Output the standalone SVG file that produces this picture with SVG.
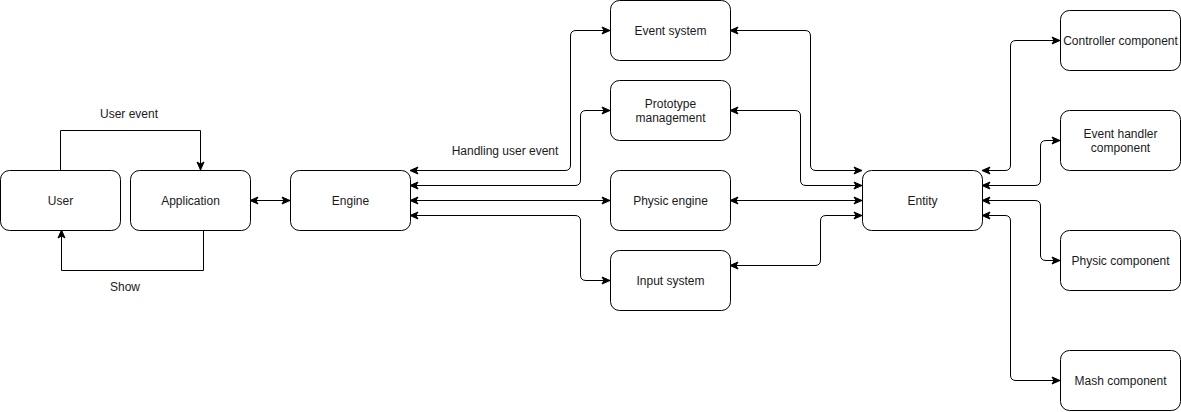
<svg xmlns="http://www.w3.org/2000/svg" width="1181" height="412" viewBox="0 0 1181 412">
<style>
.node rect{fill:#fff;stroke:#000;stroke-width:1}
text{font-family:"Liberation Sans",Arial,sans-serif;font-size:12px;fill:#1a1a1a;text-anchor:middle}
.edge{fill:none;stroke:#000;stroke-width:1;stroke-linejoin:round}
.both{marker-start:url(#arr);marker-end:url(#arr)}
.one{marker-end:url(#arr)}
</style>
<defs>
<marker id="arr" markerUnits="userSpaceOnUse" markerWidth="10" markerHeight="10" viewBox="-9 -5 10 10" refX="0" refY="0" orient="auto-start-reverse">
<path d="M0,0 L-8,-3.5 L-6,0 L-8,3.5 Z" fill="#000" stroke="#000" stroke-width="1" stroke-linejoin="miter"/>
</marker>
</defs>
<rect width="1181" height="412" fill="#fff"/>
<g id="connectors">
<path class="edge one" d="M60.5,170 V130.5 H200.5 V170"/>
<path class="edge one" d="M203.5,230 V270.5 H61.5 V230"/>
<path class="edge both" d="M250,200.5 H290"/>
<path class="edge both" d="M410,170.5 H565 Q570.5,170.5 570.5,165 V36 Q570.5,30.5 576,30.5 H610"/>
<path class="edge both" d="M410,185.5 H575 Q580.5,185.5 580.5,180 V116 Q580.5,110.5 586,110.5 H610"/>
<path class="edge both" d="M410,200.5 H610"/>
<path class="edge both" d="M410,215.5 H575 Q580.5,215.5 580.5,221 V275 Q580.5,280.5 586,280.5 H610"/>
<path class="edge both" d="M730,30.5 H805 Q810.5,30.5 810.5,36 V165 Q810.5,170.5 816,170.5 H862"/>
<path class="edge both" d="M730,110.5 H795 Q800.5,110.5 800.5,116 V180 Q800.5,185.5 806,185.5 H862"/>
<path class="edge both" d="M730,200.5 H862"/>
<path class="edge both" d="M730,265.5 H815 Q820.5,265.5 820.5,260 V221 Q820.5,215.5 826,215.5 H862"/>
<path class="edge both" d="M982,170.5 H1005 Q1010.5,170.5 1010.5,165 V46 Q1010.5,40.5 1016,40.5 H1060"/>
<path class="edge both" d="M982,185.5 H1035 Q1040.5,185.5 1040.5,180 V146 Q1040.5,140.5 1046,140.5 H1060"/>
<path class="edge both" d="M982,200.5 H1035 Q1040.5,200.5 1040.5,206 V255 Q1040.5,260.5 1046,260.5 H1060"/>
<path class="edge both" d="M982,215.5 H1005 Q1010.5,215.5 1010.5,221 V375 Q1010.5,380.5 1016,380.5 H1060"/>
<text x="129" y="118">User event</text>
<text x="125" y="291">Show</text>
<text x="505" y="155">Handling user event</text>
</g>
<g id="user" class="node"><rect x="0.5" y="170.5" width="120" height="60" rx="9"/><text x="60.5" y="204.5">User</text></g>
<g id="application" class="node"><rect x="130.5" y="170.5" width="120" height="60" rx="9"/><text x="190.5" y="204.5">Application</text></g>
<g id="engine" class="node"><rect x="290.5" y="170.5" width="120" height="60" rx="9"/><text x="350.5" y="204.5">Engine</text></g>
<g id="event-system" class="node"><rect x="610.5" y="0.5" width="120" height="60" rx="9"/><text x="670.5" y="34.5">Event system</text></g>
<g id="prototype-management" class="node"><rect x="610.5" y="80.5" width="120" height="60" rx="9"/><text x="670.5" y="108">Prototype</text><text x="670.5" y="122">management</text></g>
<g id="physic-engine" class="node"><rect x="610.5" y="170.5" width="120" height="60" rx="9"/><text x="670.5" y="204.5">Physic engine</text></g>
<g id="input-system" class="node"><rect x="610.5" y="250.5" width="120" height="60" rx="9"/><text x="670.5" y="284.5">Input system</text></g>
<g id="entity" class="node"><rect x="862.5" y="170.5" width="120" height="60" rx="9"/><text x="922.5" y="204.5">Entity</text></g>
<g id="controller-component" class="node"><rect x="1060.5" y="10.5" width="120" height="60" rx="9"/><text x="1120.5" y="44.5">Controller component</text></g>
<g id="event-handler-component" class="node"><rect x="1060.5" y="110.5" width="120" height="60" rx="9"/><text x="1120.5" y="138">Event handler</text><text x="1120.5" y="152">component</text></g>
<g id="physic-component" class="node"><rect x="1060.5" y="230.5" width="120" height="60" rx="9"/><text x="1120.5" y="264.5">Physic component</text></g>
<g id="mash-component" class="node"><rect x="1060.5" y="350.5" width="120" height="60" rx="9"/><text x="1120.5" y="384.5">Mash component</text></g>
</svg>
